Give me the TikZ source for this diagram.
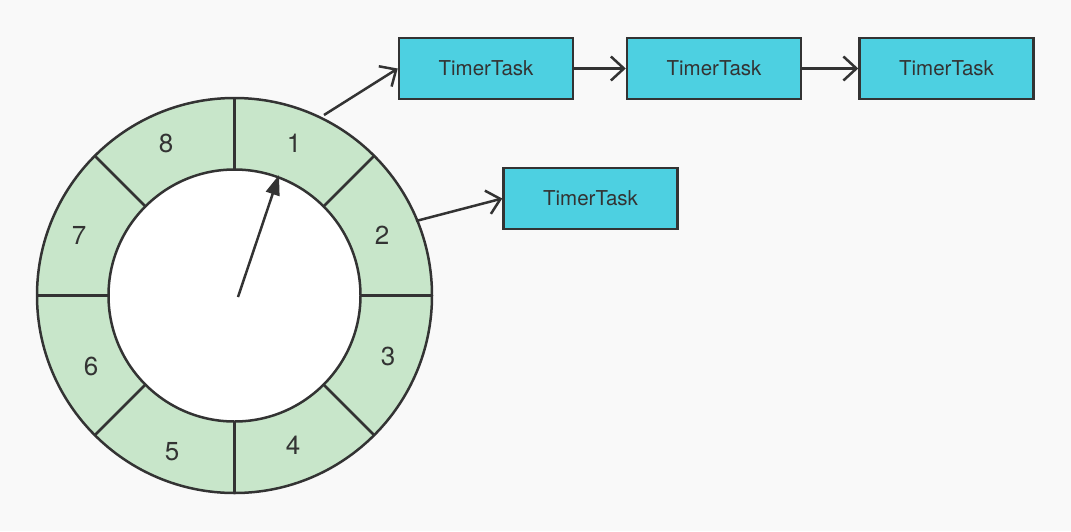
\documentclass[tikz,border=0pt]{standalone}
\usepackage{fontspec}
\setmainfont{TeX Gyre Heros}
\usetikzlibrary{arrows.meta}
\definecolor{bg}{HTML}{F9F9F9}
\definecolor{ln}{HTML}{333333}
\definecolor{slot}{HTML}{C8E6CA}
\definecolor{task}{HTML}{4DD0E1}
\begin{document}
\begin{tikzpicture}[x=1pt,y=-1pt,line width=2.5pt,
  taskbox/.style={draw=ln,fill=task,minimum width=174pt,minimum height=61pt,inner sep=0pt,
    text=ln,font=\fontsize{20.5}{20.5}\selectfont},
  digit/.style={text=ln,font=\fontsize{26}{26}\selectfont,inner sep=0pt},
  barb/.style={draw=ln,-{Straight Barb[length=13pt,width=24pt,line width=2.5pt]}},
  pointer/.style={draw=ln,-{Triangle[length=20pt,width=14pt]}}]
\fill[bg] (0,0) rectangle (1071,531);
\useasboundingbox (0,0) rectangle (1071,531);
\coordinate (C) at (234.5,295.5);
\fill[slot] (C) circle[radius=197.5pt];
\foreach \a in {0,45,...,315}
  \draw[ln] (C) ++(\a:126pt) -- ++(\a:71.5pt);
\draw[ln] (C) circle[radius=197.5pt];
\draw[ln,fill=white] (C) circle[radius=126pt];
\node[digit] (d1) at (294,143) {1};
\node[digit] (d2) at (382,235) {2};
\node[digit] (d3) at (388,356) {3};
\node[digit] (d4) at (293,445) {4};
\node[digit] (d5) at (172,452) {5};
\node[digit] (d6) at (91,366) {6};
\node[digit] (d7) at (79,235) {7};
\node[digit] (d8) at (166,143) {8};
\coordinate (ctr) at (238,297);
\coordinate (ptip) at (279,175);
\draw[pointer] (ctr) -- (ptip);
\node[taskbox] (t1) at (486,68.5) {TimerTask};
\node[taskbox] (t2) at (714,68.5) {TimerTask};
\node[taskbox] (t3) at (946.5,68.5) {TimerTask};
\node[taskbox] (t4) at (590.5,198.5) {TimerTask};
\coordinate (s1) at (324,115);
\coordinate (s2) at (416,221);
\draw[barb] (s1) -- (t1.west);
\draw[barb] (s2) -- (t4.west);
\draw[barb] (t1.east) -- (t2.west);
\draw[barb] (t2.east) -- (t3.west);
\end{tikzpicture}
\end{document}
